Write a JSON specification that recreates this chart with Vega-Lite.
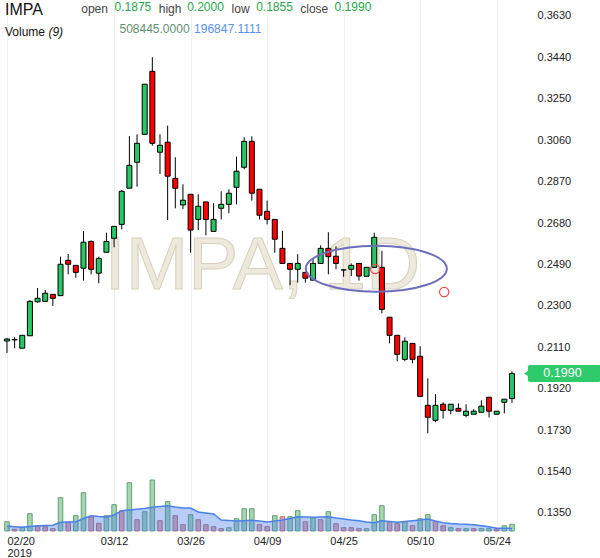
{
  "$schema": "https://vega.github.io/schema/vega-lite/v6.json",
  "width": 527,
  "height": 531,
  "autosize": {"type": "none"},
  "padding": {"left": 0, "top": 0, "right": 73, "bottom": 27},
  "background": "white",
  "config": {"view": {"stroke": null}, "font": "Liberation Sans", "text": {"font": "Liberation Sans"}},
  "data": {"values": [
    {"i":0,"o":0.2139,"h":0.2153,"l":0.2084,"c":0.2148,"v":700000,"vu":1,"ma":377000},
    {"i":1,"o":0.2146,"h":0.2157,"l":0.2106,"c":0.2144,"v":128000,"vu":0,"ma":324000},
    {"i":2,"o":0.2106,"h":0.2165,"l":0.2106,"c":0.2165,"v":279000,"vu":1,"ma":279000},
    {"i":3,"o":0.2163,"h":0.2327,"l":0.2163,"c":0.2321,"v":1303000,"vu":1,"ma":339000},
    {"i":4,"o":0.2319,"h":0.2382,"l":0.2315,"c":0.2335,"v":377000,"vu":0,"ma":399000},
    {"i":5,"o":0.2321,"h":0.2373,"l":0.2321,"c":0.2358,"v":324000,"vu":0,"ma":414000},
    {"i":6,"o":0.2353,"h":0.2353,"l":0.2300,"c":0.2335,"v":173000,"vu":0,"ma":429000},
    {"i":7,"o":0.2347,"h":0.2526,"l":0.2347,"c":0.2491,"v":2508000,"vu":1,"ma":655000},
    {"i":8,"o":0.2509,"h":0.2538,"l":0.2445,"c":0.2491,"v":655000,"vu":0,"ma":678000},
    {"i":9,"o":0.2486,"h":0.2486,"l":0.2429,"c":0.2454,"v":1153000,"vu":1,"ma":700000},
    {"i":10,"o":0.2473,"h":0.2644,"l":0.2416,"c":0.2592,"v":2885000,"vu":1,"ma":942000},
    {"i":11,"o":0.2596,"h":0.2600,"l":0.2445,"c":0.2468,"v":1055000,"vu":0,"ma":1153000},
    {"i":12,"o":0.2450,"h":0.2526,"l":0.2404,"c":0.2518,"v":580000,"vu":0,"ma":1092000},
    {"i":13,"o":0.2546,"h":0.2636,"l":0.2546,"c":0.2596,"v":1153000,"vu":1,"ma":1055000},
    {"i":14,"o":0.2610,"h":0.2665,"l":0.2569,"c":0.2665,"v":1981000,"vu":1,"ma":1205000},
    {"i":15,"o":0.2674,"h":0.2832,"l":0.2651,"c":0.2826,"v":1529000,"vu":0,"ma":1529000},
    {"i":16,"o":0.2840,"h":0.3079,"l":0.2840,"c":0.2945,"v":3638000,"vu":1,"ma":1582000},
    {"i":17,"o":0.2959,"h":0.3087,"l":0.2847,"c":0.3046,"v":851000,"vu":0,"ma":1635000},
    {"i":18,"o":0.3087,"h":0.3317,"l":0.3087,"c":0.3317,"v":1454000,"vu":1,"ma":1695000},
    {"i":19,"o":0.3376,"h":0.3441,"l":0.3035,"c":0.3046,"v":3842000,"vu":1,"ma":1785000},
    {"i":20,"o":0.3005,"h":0.3087,"l":0.2905,"c":0.3037,"v":776000,"vu":0,"ma":1846000},
    {"i":21,"o":0.3051,"h":0.3127,"l":0.2694,"c":0.2895,"v":2207000,"vu":1,"ma":1906000},
    {"i":22,"o":0.2885,"h":0.2982,"l":0.2748,"c":0.2840,"v":1153000,"vu":0,"ma":1808000},
    {"i":23,"o":0.2763,"h":0.2858,"l":0.2745,"c":0.2785,"v":475000,"vu":0,"ma":1733000},
    {"i":24,"o":0.2812,"h":0.2812,"l":0.2544,"c":0.2648,"v":1228000,"vu":1,"ma":1733000},
    {"i":25,"o":0.2697,"h":0.2812,"l":0.2648,"c":0.2757,"v":851000,"vu":0,"ma":1431000},
    {"i":26,"o":0.2777,"h":0.2777,"l":0.2624,"c":0.2697,"v":475000,"vu":0,"ma":1356000},
    {"i":27,"o":0.2642,"h":0.2771,"l":0.2642,"c":0.2697,"v":324000,"vu":0,"ma":1281000},
    {"i":28,"o":0.2748,"h":0.2826,"l":0.2697,"c":0.2766,"v":173000,"vu":0,"ma":829000},
    {"i":29,"o":0.2766,"h":0.2835,"l":0.2725,"c":0.2817,"v":249000,"vu":1,"ma":791000},
    {"i":30,"o":0.2844,"h":0.2985,"l":0.2766,"c":0.2918,"v":927000,"vu":1,"ma":753000},
    {"i":31,"o":0.2936,"h":0.3074,"l":0.2927,"c":0.3055,"v":1680000,"vu":1,"ma":776000},
    {"i":32,"o":0.3055,"h":0.3078,"l":0.2783,"c":0.2817,"v":1680000,"vu":1,"ma":806000},
    {"i":33,"o":0.2835,"h":0.2835,"l":0.2697,"c":0.2716,"v":475000,"vu":0,"ma":753000},
    {"i":34,"o":0.2734,"h":0.2783,"l":0.2674,"c":0.2697,"v":324000,"vu":0,"ma":678000},
    {"i":35,"o":0.2697,"h":0.2697,"l":0.2544,"c":0.2606,"v":1153000,"vu":1,"ma":753000},
    {"i":36,"o":0.2564,"h":0.2645,"l":0.2495,"c":0.2495,"v":1077000,"vu":0,"ma":829000},
    {"i":37,"o":0.2495,"h":0.2495,"l":0.2395,"c":0.2468,"v":1077000,"vu":1,"ma":942000},
    {"i":38,"o":0.2468,"h":0.2537,"l":0.2407,"c":0.2495,"v":1529000,"vu":1,"ma":1077000},
    {"i":39,"o":0.2454,"h":0.2454,"l":0.2407,"c":0.2427,"v":700000,"vu":0,"ma":1055000},
    {"i":40,"o":0.2418,"h":0.2515,"l":0.2418,"c":0.2495,"v":1002000,"vu":1,"ma":1032000},
    {"i":41,"o":0.2495,"h":0.2578,"l":0.2495,"c":0.2564,"v":851000,"vu":0,"ma":1055000},
    {"i":42,"o":0.2564,"h":0.2638,"l":0.2445,"c":0.2526,"v":1454000,"vu":1,"ma":1077000},
    {"i":43,"o":0.2528,"h":0.2573,"l":0.2468,"c":0.2495,"v":550000,"vu":0,"ma":979000},
    {"i":44,"o":0.2465,"h":0.2466,"l":0.2434,"c":0.2465,"v":249000,"vu":0,"ma":904000},
    {"i":45,"o":0.2468,"h":0.2495,"l":0.2437,"c":0.2486,"v":249000,"vu":0,"ma":829000},
    {"i":46,"o":0.2495,"h":0.2495,"l":0.2416,"c":0.2437,"v":173000,"vu":0,"ma":776000},
    {"i":47,"o":0.2436,"h":0.2477,"l":0.2436,"c":0.2477,"v":173000,"vu":1,"ma":678000},
    {"i":48,"o":0.2477,"h":0.2636,"l":0.2477,"c":0.2615,"v":1228000,"vu":1,"ma":625000},
    {"i":49,"o":0.2477,"h":0.2553,"l":0.2266,"c":0.2284,"v":1906000,"vu":1,"ma":776000},
    {"i":50,"o":0.2248,"h":0.2248,"l":0.2128,"c":0.2165,"v":700000,"vu":0,"ma":716000},
    {"i":51,"o":0.2165,"h":0.2165,"l":0.2046,"c":0.2078,"v":550000,"vu":0,"ma":655000},
    {"i":52,"o":0.2055,"h":0.2156,"l":0.2046,"c":0.2138,"v":700000,"vu":1,"ma":716000},
    {"i":53,"o":0.2128,"h":0.2128,"l":0.2037,"c":0.2055,"v":399000,"vu":0,"ma":776000},
    {"i":54,"o":0.2069,"h":0.2115,"l":0.1885,"c":0.1885,"v":927000,"vu":1,"ma":829000},
    {"i":55,"o":0.1844,"h":0.1968,"l":0.1716,"c":0.1789,"v":1228000,"vu":1,"ma":904000},
    {"i":56,"o":0.1775,"h":0.1895,"l":0.1766,"c":0.1844,"v":700000,"vu":0,"ma":753000},
    {"i":57,"o":0.1849,"h":0.1858,"l":0.1783,"c":0.1821,"v":399000,"vu":0,"ma":625000},
    {"i":58,"o":0.1821,"h":0.1849,"l":0.1803,"c":0.1849,"v":249000,"vu":1,"ma":565000},
    {"i":59,"o":0.1830,"h":0.1853,"l":0.1817,"c":0.1817,"v":173000,"vu":0,"ma":527000},
    {"i":60,"o":0.1798,"h":0.1849,"l":0.1789,"c":0.1817,"v":173000,"vu":1,"ma":505000},
    {"i":61,"o":0.1803,"h":0.1826,"l":0.1803,"c":0.1817,"v":173000,"vu":0,"ma":475000},
    {"i":62,"o":0.1812,"h":0.1867,"l":0.1812,"c":0.1840,"v":173000,"vu":1,"ma":399000},
    {"i":63,"o":0.1881,"h":0.1881,"l":0.1789,"c":0.1817,"v":173000,"vu":1,"ma":324000},
    {"i":64,"o":0.1803,"h":0.1817,"l":0.1803,"c":0.1817,"v":128000,"vu":0,"ma":203000},
    {"i":65,"o":0.1858,"h":0.1872,"l":0.1807,"c":0.1872,"v":399000,"vu":1,"ma":203000},
    {"i":66,"o":0.1875,"h":0.2000,"l":0.1855,"c":0.1990,"v":508445,"vu":1,"ma":196847.1111}
  ]},
  "encoding": {
    "x": {
      "field": "i", "type": "quantitative",
      "scale": {"domain": [-0.256, 67.31], "nice": false, "zero": false},
      "axis": {
        "values": [0, 14, 24, 34, 44, 54, 64],
        "labelExpr": "datum.value == 0 ? ['02/20', '2019'] : datum.value == 14 ? '03/12' : datum.value == 24 ? '03/26' : datum.value == 34 ? '04/09' : datum.value == 44 ? '04/25' : datum.value == 54 ? '05/10' : '05/24'",
        "title": null, "domain": false, "ticks": false,
        "labelPadding": 4, "labelFontSize": 11, "labelColor": "#222222",
        "labelFlush": false,
        "labelAlign": {"condition": {"test": "datum.value == 0", "value": "left"}, "value": "center"},
        "labelLineHeight": 12, "labelFont": "Liberation Sans",
        "gridColor": "#efefef", "gridWidth": 1
      }
    }
  },
  "layer": [
    {
      "layer": [
        {
          "mark": {"type": "bar", "width": 4.5, "strokeWidth": 1, "orient": "vertical"},
          "encoding": {
            "y": {"field": "v", "type": "quantitative", "scale": {"domain": [0, 40000000], "nice": false}, "axis": null},
            "fill": {"condition": {"test": "datum.vu == 1", "value": "#a6d6b1"}, "value": "#e8a5a5"},
            "stroke": {"condition": {"test": "datum.vu == 1", "value": "#62a073"}, "value": "#b56e6e"}
          }
        },
        {
          "mark": {"type": "area", "color": "#4a80e8", "fillOpacity": 0.4},
          "encoding": {"y": {"field": "ma", "type": "quantitative"}}
        },
        {
          "mark": {"type": "line", "color": "#4a80e8", "strokeWidth": 1.5},
          "encoding": {"y": {"field": "ma", "type": "quantitative"}}
        }
      ]
    },
    {
      "layer": [
        {
          "transform": [{"filter": "datum.i == 66"}],
          "mark": {"type": "text", "text": "IMPA, 1D", "fontSize": 75, "align": "center", "baseline": "alphabetic", "fill": "#eee9dd", "stroke": "#d8d1be", "strokeWidth": 1, "font": "Liberation Sans"},
          "encoding": {"x": {"datum": 33.4}, "y": {"datum": 0.2378}}
        },
        {
          "mark": {"type": "rule", "color": "#000000", "strokeWidth": 1},
          "encoding": {
            "y": {
              "field": "l", "type": "quantitative",
              "scale": {"domain": [0.12674, 0.37034], "nice": false, "zero": false},
              "axis": {
                "orient": "right",
                "values": [0.135, 0.154, 0.173, 0.192, 0.211, 0.23, 0.249, 0.268, 0.287, 0.306, 0.325, 0.344, 0.363],
                "format": ".4f", "title": null, "domain": false, "ticks": false,
                "labelPadding": 10, "labelFontSize": 11, "labelColor": "#222222", "labelFont": "Liberation Sans",
                "gridColor": "#efefef", "gridWidth": 1
              }
            },
            "y2": {"field": "h"}
          }
        },
        {
          "mark": {"type": "bar", "width": 5, "stroke": "#000000", "strokeWidth": 1, "orient": "vertical"},
          "encoding": {
            "y": {"field": "o", "type": "quantitative"},
            "y2": {"field": "c"},
            "fill": {"condition": {"test": "datum.c >= datum.o", "value": "#27c764"}, "value": "#ff0000"}
          }
        },
        {
          "transform": [{"filter": "datum.i == 66"}],
          "mark": {"type": "point", "shape": "M-1,0A1,0.326,0,1,0,1,0A1,0.326,0,1,0,-1,0Z", "size": 19881, "filled": false, "stroke": "#6e6ebd", "strokeWidth": 2, "opacity": 1},
          "encoding": {"x": {"datum": 48.27}, "y": {"datum": 0.24707}}
        },
        {
          "transform": [{"filter": "datum.i == 66"}],
          "mark": {"type": "point", "shape": "circle", "size": 85, "filled": false, "stroke": "#ff4444", "strokeWidth": 1.2, "opacity": 1},
          "encoding": {"x": {"datum": 48.12}, "y": {"datum": 0.2469}}
        },
        {
          "transform": [{"filter": "datum.i == 66"}],
          "mark": {"type": "point", "shape": "circle", "size": 85, "filled": false, "stroke": "#ff4444", "strokeWidth": 1.2, "opacity": 1},
          "encoding": {"x": {"datum": 57.14}, "y": {"datum": 0.2364}}
        },
        {
          "transform": [{"filter": "datum.i == 66"}],
          "mark": {"type": "text", "text": "IMPA", "fontSize": 16, "align": "left", "baseline": "alphabetic", "color": "#111111"},
          "encoding": {"x": {"datum": -0.256}, "y": {"datum": 0.36346}}
        },
        {
          "transform": [{"filter": "datum.i == 66"}],
          "mark": {"type": "text", "text": "open", "fontSize": 12, "align": "left", "baseline": "alphabetic", "color": "#444444"},
          "encoding": {"x": {"datum": 9.705}, "y": {"datum": 0.36451}}
        },
        {
          "transform": [{"filter": "datum.i == 66"}],
          "mark": {"type": "text", "fontSize": 12, "align": "left", "baseline": "alphabetic", "color": "#26a84a"},
          "encoding": {"x": {"datum": 14.064}, "y": {"datum": 0.36552}, "text": {"field": "o", "type": "quantitative", "format": ".4f"}}
        },
        {
          "transform": [{"filter": "datum.i == 66"}],
          "mark": {"type": "text", "text": "high", "fontSize": 12, "align": "left", "baseline": "alphabetic", "color": "#444444"},
          "encoding": {"x": {"datum": 19.833}, "y": {"datum": 0.36451}}
        },
        {
          "transform": [{"filter": "datum.i == 66"}],
          "mark": {"type": "text", "fontSize": 12, "align": "left", "baseline": "alphabetic", "color": "#26a84a"},
          "encoding": {"x": {"datum": 23.551}, "y": {"datum": 0.36552}, "text": {"field": "h", "type": "quantitative", "format": ".4f"}}
        },
        {
          "transform": [{"filter": "datum.i == 66"}],
          "mark": {"type": "text", "text": "low", "fontSize": 12, "align": "left", "baseline": "alphabetic", "color": "#444444"},
          "encoding": {"x": {"datum": 29.359}, "y": {"datum": 0.36451}}
        },
        {
          "transform": [{"filter": "datum.i == 66"}],
          "mark": {"type": "text", "fontSize": 12, "align": "left", "baseline": "alphabetic", "color": "#26a84a"},
          "encoding": {"x": {"datum": 32.564}, "y": {"datum": 0.36552}, "text": {"field": "l", "type": "quantitative", "format": ".4f"}}
        },
        {
          "transform": [{"filter": "datum.i == 66"}],
          "mark": {"type": "text", "text": "close", "fontSize": 12, "align": "left", "baseline": "alphabetic", "color": "#444444"},
          "encoding": {"x": {"datum": 38.333}, "y": {"datum": 0.36451}}
        },
        {
          "transform": [{"filter": "datum.i == 66"}],
          "mark": {"type": "text", "fontSize": 12, "align": "left", "baseline": "alphabetic", "color": "#26a84a"},
          "encoding": {"x": {"datum": 42.821}, "y": {"datum": 0.36552}, "text": {"field": "c", "type": "quantitative", "format": ".4f"}}
        },
        {
          "transform": [{"filter": "datum.i == 66"}],
          "mark": {"type": "text", "text": "Volume", "fontSize": 12, "align": "left", "baseline": "alphabetic", "color": "#111111"},
          "encoding": {"x": {"datum": -0.256}, "y": {"datum": 0.35383}}
        },
        {
          "transform": [{"filter": "datum.i == 66"}],
          "mark": {"type": "text", "text": "(9)", "fontSize": 12, "fontStyle": "italic", "align": "left", "baseline": "alphabetic", "color": "#111111"},
          "encoding": {"x": {"datum": 5.423}, "y": {"datum": 0.35383}}
        },
        {
          "transform": [{"filter": "datum.i == 66"}],
          "mark": {"type": "text", "fontSize": 12, "align": "left", "baseline": "alphabetic", "color": "#5f8f70"},
          "encoding": {"x": {"datum": 14.705}, "y": {"datum": 0.3552}, "text": {"field": "v", "type": "quantitative", "format": ".4f"}}
        },
        {
          "transform": [{"filter": "datum.i == 66"}],
          "mark": {"type": "text", "fontSize": 12, "align": "left", "baseline": "alphabetic", "color": "#5a8ff0"},
          "encoding": {"x": {"datum": 24.449}, "y": {"datum": 0.3552}, "text": {"field": "ma", "type": "quantitative", "format": ".4f"}}
        },
        {
          "transform": [{"filter": "datum.i == 66"}],
          "mark": {"type": "point", "shape": "triangle-left", "size": 40, "filled": true, "color": "#2fcb6a", "opacity": 1},
          "encoding": {"x": {"datum": 67.9}, "y": {"field": "c", "type": "quantitative"}}
        },
        {
          "transform": [{"filter": "datum.i == 66"}],
          "mark": {"type": "rect", "color": "#2fcb6a", "cornerRadius": 2},
          "encoding": {"x": {"datum": 68.08}, "x2": {"datum": 77.6}, "y": {"datum": 0.2029}, "y2": {"datum": 0.1951}}
        },
        {
          "transform": [{"filter": "datum.i == 66"}],
          "mark": {"type": "text", "fontSize": 12.5, "align": "center", "baseline": "middle", "color": "#ffffff"},
          "encoding": {"x": {"datum": 72.6}, "y": {"field": "c", "type": "quantitative"}, "text": {"field": "c", "type": "quantitative", "format": ".4f"}}
        }
      ]
    }
  ],
  "resolve": {"scale": {"y": "independent"}}
}
